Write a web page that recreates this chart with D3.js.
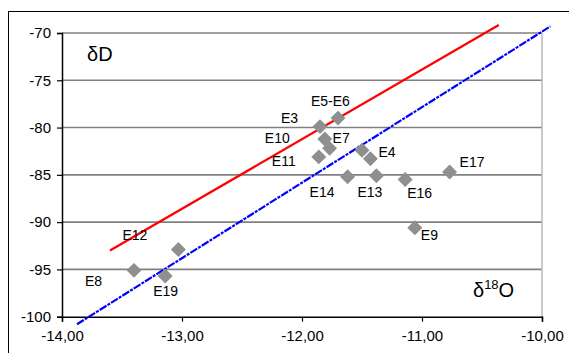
<!doctype html>
<html>
<head>
<meta charset="utf-8">
<style>
  body { margin: 0; background: #fff; }
  text { font-family: "Liberation Sans", Arial, sans-serif; fill: #000; }
</style>
<script src="https://d3js.org/d3.v7.min.js"></script>
</head>
<body>
<svg width="569" height="353"></svg>
<script>
// samples (delta18O, deltaD)
var names = ["E5-E6", "E3", "E10", "E7", "E11", "E15", "E4", "E14", "E13", "E16", "E17", "E9", "E12", "E8", "E19"];
var d18O  = [-11.70, -11.85, -11.81, -11.77, -11.86, -11.50, -11.43, -11.62, -11.38, -11.14, -10.77, -11.06, -13.03, -13.40, -13.14];
var dD    = [-79.0, -79.9, -81.2, -82.2, -83.1, -82.4, -83.3, -85.2, -85.1, -85.5, -84.7, -90.6, -92.9, -95.1, -95.7];
var showLabel = [true, true, true, true, true, false, true, true, true, true, true, true, true, true, true];

// lines: local (red) and global meteoric water line (blue, dashed)
var redX = [-13.60, -10.36], redY = [-93.0, -69.15];
var blueX = [-13.875, -9.93], blueY = [-100.8, -69.3];

var xTicks = [-14, -13, -12, -11, -10];
var yTicks = [-100, -95, -90, -85, -80, -75, -70];

// label placement relative to marker (px)
var labelOff = {
  "E5-E6": [-27, -12], "E3": [-39, -4], "E10": [-60, 4], "E7": [3, -5],
  "E11": [-47, 9], "E4": [8, -2], "E14": [-38, 20], "E13": [-19, 21],
  "E16": [2, 18], "E17": [10, -5], "E9": [6, 12], "E12": [-56, -10],
  "E8": [-49, 16], "E19": [-12, 20]
};

var svg = d3.select("svg");
var pLeft = 62, pRight = 542, pTop = 33, pBottom = 316.7;

var x = d3.scaleLinear().domain([-14, -10]).range([pLeft, pRight]);
var y = d3.scaleLinear().domain([-100, -70]).range([pBottom, pTop]);

// outer frame
svg.append("rect")
  .attr("x", 8.5).attr("y", 11.5)
  .attr("width", 600).attr("height", 400)
  .attr("fill", "none").attr("stroke", "#000").attr("stroke-width", 1);

// gridlines
svg.append("g").selectAll("line")
  .data(yTicks.filter(function(d) { return d > -100; }))
  .enter().append("line")
  .attr("x1", pLeft).attr("x2", pRight)
  .attr("y1", function(d) { return y(d); })
  .attr("y2", function(d) { return y(d); })
  .attr("stroke", "#808080").attr("stroke-width", 1.6);

// right border of plot
svg.append("line")
  .attr("x1", pRight).attr("x2", pRight).attr("y1", pTop).attr("y2", pBottom)
  .attr("stroke", "#b8b8b8").attr("stroke-width", 1.5);

// axes
var hyphen = function(s) { return s.replace("\u2212", "-"); };
var yAxis = svg.append("g")
  .attr("transform", "translate(" + pLeft + ",0)")
  .call(d3.axisLeft(y).tickValues(yTicks).tickSize(5).tickPadding(6)
    .tickFormat(function(d) { return hyphen(d3.format("d")(d)); }));
var xAxis = svg.append("g")
  .attr("transform", "translate(0," + pBottom + ")")
  .call(d3.axisBottom(x).tickValues(xTicks).tickSize(5).tickPadding(9)
    .tickFormat(function(d) { return hyphen(d3.format(".2f")(d)).replace(".", ","); }));

[yAxis, xAxis].forEach(function(a) {
  a.select(".domain").attr("stroke", "#000").attr("stroke-width", 1.5);
  a.selectAll(".tick line").attr("stroke", "#000").attr("stroke-width", 1.2);
  a.selectAll(".tick text").attr("font-size", "15px").attr("font-family", "Liberation Sans, Arial, sans-serif").attr("fill", "#000");
});

// regression lines
var line = d3.line().x(function(d) { return x(d[0]); }).y(function(d) { return y(d[1]); });
svg.append("path")
  .datum(d3.zip(blueX, blueY))
  .attr("d", line)
  .attr("fill", "none").attr("stroke", "#0000ff").attr("stroke-width", 2.2)
  .attr("stroke-dasharray", "8,1.2,3,1.2");
svg.append("path")
  .datum(d3.zip(redX, redY))
  .attr("d", line)
  .attr("fill", "none").attr("stroke", "#ff0000").attr("stroke-width", 2.3);

// samples
var pts = names.map(function(n, i) { return { name: n, x: d18O[i], y: dD[i], show: showLabel[i] }; });

svg.append("g").selectAll("path")
  .data(pts)
  .enter().append("path")
  .attr("d", d3.symbol(d3.symbolSquare, 112))
  .attr("transform", function(d) { return "translate(" + x(d.x) + "," + y(d.y) + ") rotate(45)"; })
  .attr("fill", "#8f8f8f");

svg.append("g").selectAll("text")
  .data(pts.filter(function(d) { return d.show; }))
  .enter().append("text")
  .attr("x", function(d) { return x(d.x) + labelOff[d.name][0]; })
  .attr("y", function(d) { return y(d.y) + labelOff[d.name][1]; })
  .attr("font-size", "14px")
  .text(function(d) { return d.name; });

// axis titles
svg.append("text")
  .attr("x", 87).attr("y", 61)
  .attr("font-size", "20px")
  .text("\u03b4D");

var t = svg.append("text")
  .attr("x", 473).attr("y", 297)
  .attr("font-size", "20px");
t.append("tspan").text("\u03b4");
t.append("tspan").attr("font-size", "13px").attr("dy", -8).text("18");
t.append("tspan").attr("dy", 8).text("O");
</script>
</body>
</html>
